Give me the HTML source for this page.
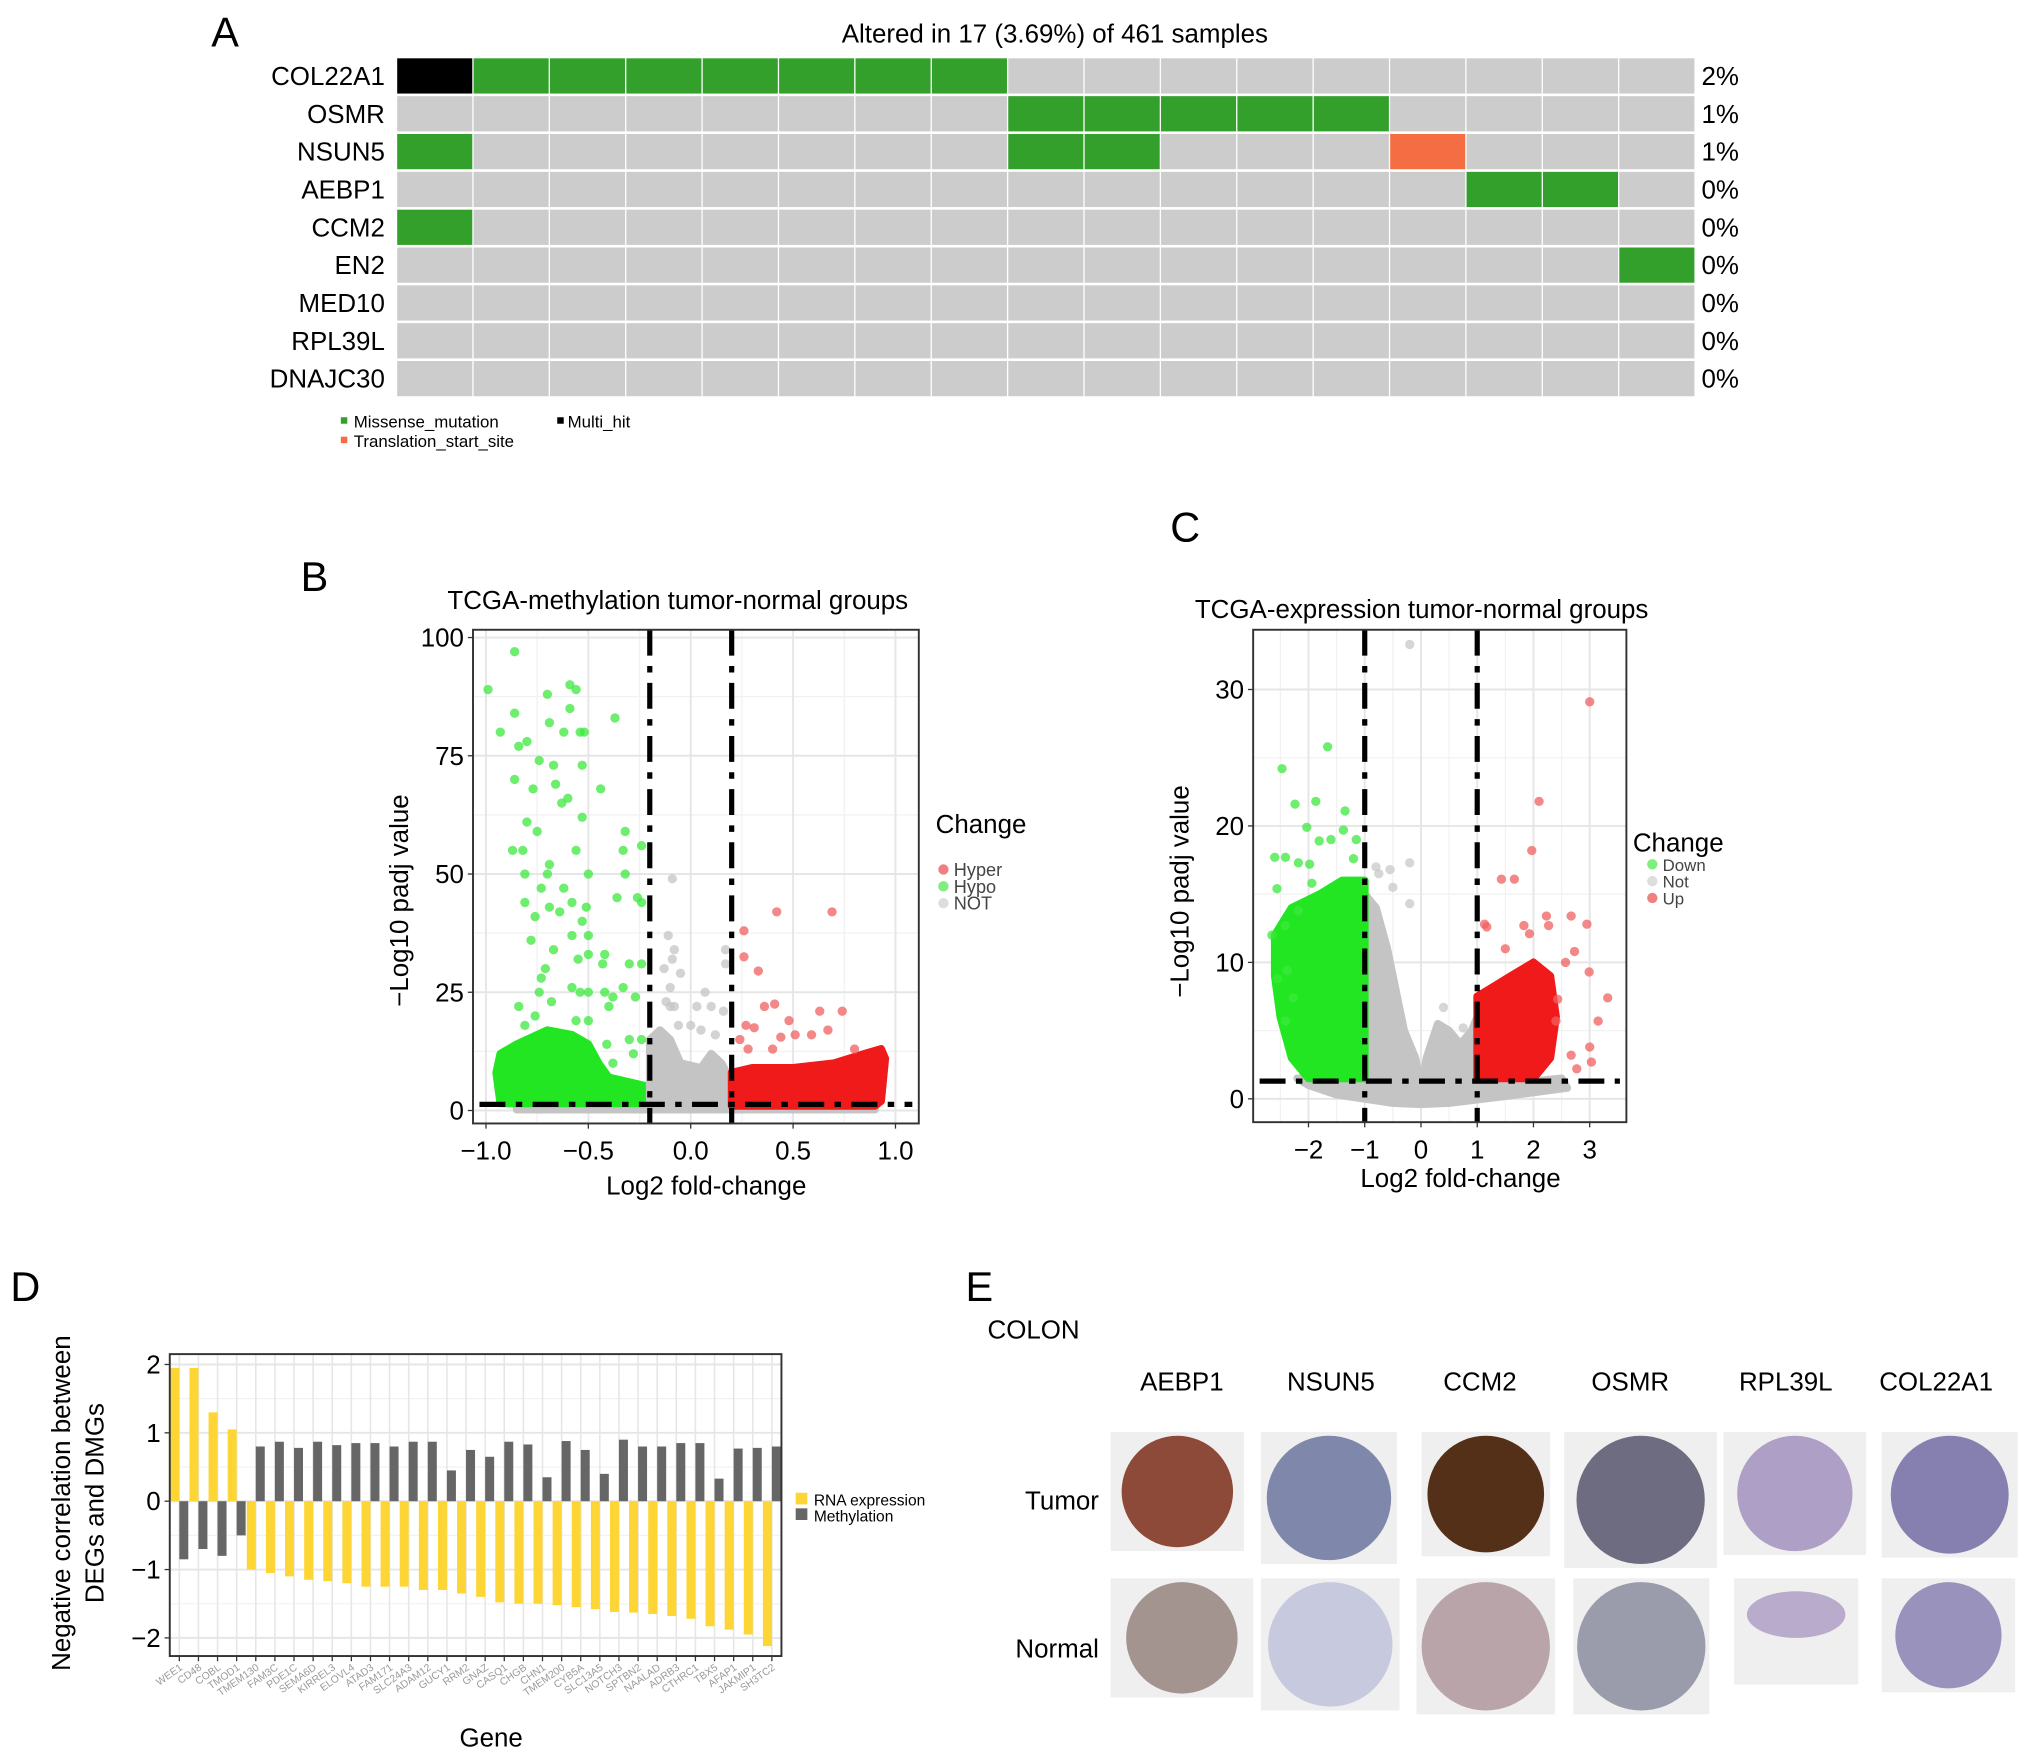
<!DOCTYPE html>
<html><head><meta charset="utf-8"><style>
html,body{margin:0;padding:0;background:#fff;}
svg{display:block;font-family:"Liberation Sans",sans-serif;}
</style></head><body>
<svg id="fig" width="2032" height="1761" viewBox="0 0 1568 1359" preserveAspectRatio="none" xmlns="http://www.w3.org/2000/svg">
<rect width="1568" height="1359" fill="#fff"/>
<g id="panelA">
<text x="163" y="36" font-size="32">A</text>
<text x="814" y="33" font-size="20" text-anchor="middle">Altered in 17 (3.69%) of 461 samples</text>
<g id="oncoGrid"></g>
<g font-size="13">
<rect x="263" y="322" width="5" height="5" fill="#33a02c"/><text x="273" y="330">Missense_mutation</text>
<rect x="430" y="322" width="5" height="5" fill="#000"/><text x="438" y="330">Multi_hit</text>
<rect x="263" y="337" width="5" height="5" fill="#f46d43"/><text x="273" y="345">Translation_start_site</text>
</g>
</g>
<g id="panelB">
<text x="232" y="456" font-size="32">B</text>
<text x="523" y="470" font-size="20" text-anchor="middle">TCGA-methylation tumor-normal groups</text>
<text transform="translate(315,695) rotate(-90)" font-size="20" text-anchor="middle">−Log10 padj value</text>
<text x="545" y="922" font-size="20" text-anchor="middle">Log2 fold-change</text>
<g id="plotB"></g>
<g>
<text x="722" y="643" font-size="20">Change</text>
<circle cx="728" cy="671" r="4" fill="#f08080"/><text x="736" y="676" font-size="14" fill="#444">Hyper</text>
<circle cx="728" cy="684" r="4" fill="#7fee7f"/><text x="736" y="689" font-size="14" fill="#444">Hypo</text>
<circle cx="728" cy="697" r="4" fill="#ddd"/><text x="736" y="702" font-size="14" fill="#444">NOT</text>
</g>
</g>
<g id="panelC">
<text x="903" y="418" font-size="32">C</text>
<text x="1097" y="477" font-size="20" text-anchor="middle">TCGA-expression tumor-normal groups</text>
<text transform="translate(917,688) rotate(-90)" font-size="20" text-anchor="middle">−Log10 padj value</text>
<text x="1127" y="916" font-size="20" text-anchor="middle">Log2 fold-change</text>
<g id="plotC"></g>
<g>
<text x="1260" y="657" font-size="20">Change</text>
<circle cx="1275" cy="667" r="4" fill="#7fee7f"/><text x="1283" y="672" font-size="13" fill="#444">Down</text>
<circle cx="1275" cy="680" r="4" fill="#ddd"/><text x="1283" y="685" font-size="13" fill="#444">Not</text>
<circle cx="1275" cy="693" r="4" fill="#f08080"/><text x="1283" y="698" font-size="13" fill="#444">Up</text>
</g>
</g>
<g id="panelD">
<text x="8" y="1004" font-size="32">D</text>
<text transform="translate(54,1160) rotate(-90)" font-size="20" text-anchor="middle">Negative correlation between</text>
<text transform="translate(80,1160) rotate(-90)" font-size="20" text-anchor="middle">DEGs and DMGs</text>
<text x="379" y="1348" font-size="20" text-anchor="middle">Gene</text>
<g id="plotD"></g>
<g font-size="12">
<rect x="614" y="1152" width="9" height="9" fill="#fdd535"/><text x="628" y="1162">RNA expression</text>
<rect x="614" y="1164" width="9" height="9" fill="#666"/><text x="628" y="1174">Methylation</text>
</g>
</g>
<g id="panelE" font-size="20">
<text x="745" y="1004" font-size="32">E</text>
<text x="762" y="1033">COLON</text>
<text x="848" y="1165" text-anchor="end">Tumor</text>
<text x="848" y="1279" text-anchor="end">Normal</text>
<g id="ihc"></g>
</g>
</svg>
<script>
var NS="http://www.w3.org/2000/svg";
function mk(parent,tag,attrs){var e=document.createElementNS(NS,tag);for(var k in attrs)e.setAttribute(k,attrs[k]);parent.appendChild(e);return e;}

// ---------- Panel A data ----------
var oncoGenes=["COL22A1","OSMR","NSUN5","AEBP1","CCM2","EN2","MED10","RPL39L","DNAJC30"];
var oncoPct=["2%","1%","1%","0%","0%","0%","0%","0%","0%"];
var oncoMissense=[[1,2,3,4,5,6,7],[8,9,10,11,12],[0,8,9],[14,15],[0],[16],[],[],[]];
var oncoMulti=[[0],[],[],[],[],[],[],[],[]];
var oncoTSS=[[],[],[13],[],[],[],[],[],[]];
var nSamples=17;
(function(){
 var g=document.getElementById('oncoGrid');
 var x0=306,x1=1308,y0=44,rh=29.2,cw=(x1-x0)/nSamples;
 for(var r=0;r<oncoGenes.length;r++){
  var t=mk(g,'text',{x:297,y:y0+rh*r+rh/2+7,'font-size':20,'text-anchor':'end'});t.textContent=oncoGenes[r];
  
  
  var p=mk(g,'text',{x:1313,y:y0+rh*r+rh/2+7,'font-size':20});p.textContent=oncoPct[r];
  
  
  for(var c=0;c<nSamples;c++){
   var col='#cccccc';
   if(oncoMissense[r].indexOf(c)>=0)col='#33a02c';
   if(oncoMulti[r].indexOf(c)>=0)col='#000000';
   if(oncoTSS[r].indexOf(c)>=0)col='#f46d43';
   var rc=mk(g,'rect',{x:x0+c*cw+0.5,y:y0+r*rh+1,width:cw-1,height:rh-2,fill:col});
   
   
  }
 }
})();

// ---------- Panel B data ----------
var bXTicks=[-1.0,-0.5,0.0,0.5,1.0];
var bXTickLabels=["−1.0","−0.5","0.0","0.5","1.0"];
var bYTicks=[0,25,50,75,100];
var bGreenCloud=[[-0.93,1.5],[-0.95,8],[-0.93,12],[-0.85,14],[-0.7,17],[-0.58,16],[-0.5,14],[-0.45,10],[-0.4,7],[-0.3,6],[-0.2,5],[-0.2,1.5]];
var bGrayCloud=[[-0.2,1],[-0.2,15],[-0.15,17],[-0.1,15],[-0.05,10],[0.05,9],[0.1,12],[0.15,10],[0.2,6],[0.2,1]];
var bGrayBand=[[-0.85,0.2],[-0.85,2.2],[0.9,2.2],[0.9,0.2]];
var bRedCloud=[[0.2,1],[0.2,8],[0.3,9],[0.5,9],[0.7,10],[0.85,12],[0.93,13],[0.95,11],[0.93,2],[0.9,1]];
var bGreenPts=[[-0.99,89],[-0.86,97],[-0.70,88],[-0.59,90],[-0.56,89],[-0.86,84],[-0.93,80],[-0.59,85],[-0.37,83],[-0.69,82],[-0.62,80],[-0.54,80],[-0.52,80],[-0.8,78],[-0.84,77],[-0.74,74],[-0.67,73],[-0.53,73],[-0.86,70],[-0.77,68],[-0.44,68],[-0.66,69],[-0.63,65],[-0.60,66],[-0.8,61],[-0.75,59],[-0.53,62],[-0.32,59],[-0.24,56],[-0.56,55],[-0.87,55],[-0.82,55],[-0.33,55],[-0.69,52],[-0.81,50],[-0.5,50],[-0.7,50],[-0.73,47],[-0.62,47],[-0.32,50],[-0.36,45],[-0.26,45],[-0.81,44],[-0.69,43],[-0.64,42],[-0.58,44],[-0.51,43],[-0.76,41],[-0.53,40],[-0.24,44],[-0.78,36],[-0.58,37],[-0.5,37],[-0.67,34],[-0.42,33],[-0.5,33],[-0.55,32],[-0.3,31],[-0.24,31],[-0.71,30],[-0.73,28],[-0.43,31],[-0.74,25],[-0.58,26],[-0.54,25],[-0.5,25],[-0.42,25],[-0.38,24],[-0.33,26],[-0.27,24],[-0.68,23],[-0.4,22],[-0.84,22],[-0.76,20],[-0.56,19],[-0.81,18],[-0.5,19],[-0.41,14],[-0.3,15],[-0.24,15],[-0.38,10],[-0.28,12]];
var bGrayPts=[[-0.09,49],[-0.11,37],[-0.08,34],[-0.09,32],[-0.13,30],[-0.05,29],[-0.1,26],[-0.12,23],[-0.1,22],[-0.08,22],[0.07,25],[0.03,22],[0.17,34],[0.17,31],[0.1,22],[0.16,21],[0.0,18],[0.05,17],[-0.06,18],[0.12,16]];
var bRedPts=[[0.26,38],[0.42,42],[0.69,42],[0.26,32.5],[0.33,29.5],[0.36,22],[0.41,22.5],[0.63,21],[0.74,21],[0.27,18],[0.48,19],[0.31,17.5],[0.51,16],[0.59,16],[0.67,17],[0.24,15],[0.4,13],[0.8,13],[0.28,13],[0.44,15.5]];
var bVLines=[-0.2,0.2];
var bHLine=1.3;

// ---------- Panel C data ----------
var cXTicks=[-2,-1,0,1,2,3];
var cXTickLabels=["−2","−1","0","1","2","3"];
var cYTicks=[0,10,20,30];
var cGreenCloud=[[-2.0,1.5],[-2.3,3],[-2.5,6],[-2.6,9],[-2.6,12],[-2.3,14],[-1.8,15],[-1.4,16],[-1.0,16],[-1.0,1.5]];
var cGrayCloud=[[-1,15],[-0.8,14],[-0.6,11],[-0.45,8],[-0.3,5],[-0.1,3],[0,0.8],[0.1,3],[0.3,5.5],[0.5,5],[0.7,4],[0.9,5],[1,6],[1,1.3],[1.8,1.2],[2.5,1.5],[2.6,0.8],[1.5,0.2],[0.5,-0.3],[0,-0.4],[-0.5,-0.3],[-1.5,0.3],[-2.0,1.0],[-2.2,1.5],[-1,1.5]];
var cRedCloud=[[1,1.5],[1,7.5],[1.2,8],[1.6,9],[2,10],[2.3,9],[2.4,6],[2.3,3],[2.0,1.5]];
var cGreenPts=[[-2.47,24.2],[-1.66,25.8],[-2.24,21.6],[-1.87,21.8],[-1.35,21.1],[-2.03,19.9],[-1.38,19.7],[-1.81,18.9],[-1.60,19],[-1.15,19],[-2.6,17.7],[-2.41,17.7],[-2.18,17.3],[-1.98,17.2],[-1.2,17.6],[-2.56,15.4],[-1.94,15.8],[-2.65,12],[-2.41,12.7],[-2.55,8.8],[-2.41,5.7],[-2.27,7.4],[-2.38,9.4],[-2.18,13.8]];
var cGrayPts=[[-0.2,33.3],[-0.2,17.3],[-0.55,16.8],[-0.75,16.5],[-0.5,15.5],[-0.2,14.3],[0.4,6.7],[0.75,5.2],[-0.8,17.0]];
var cRedPts=[[3.0,29.1],[2.1,21.8],[1.97,18.2],[1.43,16.1],[1.66,16.1],[1.13,12.8],[1.17,12.6],[2.23,13.4],[2.67,13.4],[2.95,12.8],[1.83,12.7],[1.93,12.1],[2.27,12.7],[2.73,10.8],[2.99,9.3],[3.32,7.4],[3.15,5.7],[3.0,3.8],[3.03,2.7],[2.77,2.2],[2.67,3.2],[1.5,11],[2.57,10],[2.43,7.3],[2.4,5.7]];
var cVLines=[-1,1];
var cHLine=1.3;

function volcano(gid,prefix,box,sx,sy,xTicks,xLabels,yTicks,yMinor,xMinor,clouds,pts,vlines,hline){
 var g=document.getElementById(gid);
 mk(g,'rect',{x:box[0],y:box[1],width:box[2]-box[0],height:box[3]-box[1],fill:'#fff'});
 yMinor.forEach(function(v){mk(g,'line',{x1:box[0],x2:box[2],y1:sy(v),y2:sy(v),stroke:'#f2f2f2','stroke-width':1});});
 xMinor.forEach(function(v){mk(g,'line',{y1:box[1],y2:box[3],x1:sx(v),x2:sx(v),stroke:'#f2f2f2','stroke-width':1});});
 yTicks.forEach(function(v){
  mk(g,'line',{x1:box[0],x2:box[2],y1:sy(v),y2:sy(v),stroke:'#e6e6e6','stroke-width':1.5});
  mk(g,'line',{x1:box[0]-4,x2:box[0],y1:sy(v),y2:sy(v),stroke:'#333'});
  var t=mk(g,'text',{x:box[0]-7,y:sy(v)+7,'font-size':20,'text-anchor':'end'});t.textContent=v;
  
  
 });
 xTicks.forEach(function(v,i){
  mk(g,'line',{y1:box[1],y2:box[3],x1:sx(v),x2:sx(v),stroke:'#e6e6e6','stroke-width':1.5});
  mk(g,'line',{y1:box[3],y2:box[3]+4,x1:sx(v),x2:sx(v),stroke:'#333'});
  var t=mk(g,'text',{x:sx(v),y:box[3]+28,'font-size':20,'text-anchor':'middle'});t.textContent=xLabels[i];
  
  
 });
 clouds.forEach(function(c){
  var d=c.pts.map(function(p,i){return (i?'L':'M')+sx(p[0]).toFixed(1)+','+sy(p[1]).toFixed(1);}).join('')+'Z';
  var e=mk(g,'path',{d:d,fill:c.col,stroke:c.col,'stroke-width':6,'stroke-linejoin':'round'});
  
  
 });
 pts.forEach(function(s){
  s.pts.forEach(function(p){
   var e=mk(g,'circle',{cx:sx(p[0]),cy:sy(p[1]),r:3.6,fill:s.col,'fill-opacity':0.75});
   
   
  });
 });
 vlines.forEach(function(v){
  var e=mk(g,'line',{x1:sx(v),x2:sx(v),y1:box[1],y2:box[3],stroke:'#000','stroke-width':4,'stroke-dasharray':'20,8,5,8'});
  
  
 });
 var h=mk(g,'line',{x1:box[0]+5,x2:box[2]-5,y1:sy(hline),y2:sy(hline),stroke:'#000','stroke-width':4,'stroke-dasharray':'20,8,5,8'});
 
 
 mk(g,'rect',{x:box[0],y:box[1],width:box[2]-box[0],height:box[3]-box[1],fill:'none',stroke:'#333','stroke-width':1.5});
}
var bBox=[365,486,709,867];
function bx(v){return 533+v*158;}
function by(v){return 857-v*3.65;}
volcano('plotB','volcano-b',bBox,bx,by,bXTicks,bXTickLabels,bYTicks,[12.5,37.5,62.5,87.5],[-0.75,-0.25,0.25,0.75],
 [{pts:bGrayBand,col:'#c4c4c4'},{pts:bGreenCloud,col:'#22e622'},{pts:bGrayCloud,col:'#c4c4c4'},{pts:bRedCloud,col:'#f01a1a'}],
 [{pts:bGreenPts,col:'#3ee83e'},{pts:bGrayPts,col:'#c4c4c4'},{pts:bRedPts,col:'#f06060'}],bVLines,bHLine);

var cBox=[967,486,1255,866];
function cxs(v){return 1096.5+v*43.4;}
function cys(v){return 848-v*10.53;}
volcano('plotC','volcano-c',cBox,cxs,cys,cXTicks,cXTickLabels,cYTicks,[5,15,25],[-2.5,-1.5,-0.5,0.5,1.5,2.5],
 [{pts:cGrayCloud,col:'#c4c4c4'},{pts:cGreenCloud,col:'#22e622'},{pts:cRedCloud,col:'#f01a1a'}],
 [{pts:cGreenPts,col:'#3ee83e'},{pts:cGrayPts,col:'#c8c8c8'},{pts:cRedPts,col:'#f06060'}],cVLines,cHLine);

// ---------- Panel D data ----------
var dGenes=["WEE1","CD48","COBL","TMOD1","TMEM130","FAM3C","PDE1C","SEMA6D","KIRREL3","ELOVL4","ATAD3","FAM171","SLC24A3","ADAM12","GUCY1","RRM2","GNAZ","CASQ1","CHGB","CHN1","TMEM200","CYB5A","SLC13A5","NOTCH3","SPTBN2","NAALAD","ADRB3","CTHRC1","TBX5","AFAP1","JAKMIP1","SH3TC2"];
var dRna=[1.95,1.95,1.3,1.05,-1.0,-1.05,-1.1,-1.15,-1.17,-1.2,-1.25,-1.25,-1.25,-1.3,-1.3,-1.35,-1.4,-1.48,-1.5,-1.5,-1.52,-1.55,-1.58,-1.62,-1.63,-1.65,-1.68,-1.72,-1.83,-1.88,-1.95,-2.12];
var dMeth=[-0.85,-0.7,-0.8,-0.5,0.8,0.87,0.78,0.87,0.82,0.85,0.85,0.8,0.87,0.87,0.45,0.75,0.65,0.87,0.83,0.35,0.88,0.75,0.4,0.9,0.8,0.8,0.85,0.85,0.33,0.77,0.78,0.8];
var dYTicks=[-2,-1,0,1,2];
var dYTickLabels=["−2","−1","0","1","2"];
(function(){
 var g=document.getElementById('plotD');
 var L=131,R=603,T=1045,B=1278;
 var band=(R-L)/dGenes.length;
 function y(v){return 1158.5-v*52.75;}
 mk(g,'rect',{x:L,y:T,width:R-L,height:B-T,fill:'#fff'});
 [-1.5,-0.5,0.5,1.5].forEach(function(v){mk(g,'line',{x1:L,x2:R,y1:y(v),y2:y(v),stroke:'#f2f2f2'});});
 dYTicks.forEach(function(v,i){
  mk(g,'line',{x1:L,x2:R,y1:y(v),y2:y(v),stroke:'#e6e6e6','stroke-width':1.5});
  mk(g,'line',{x1:L-4,x2:L,y1:y(v),y2:y(v),stroke:'#333'});
  var t=mk(g,'text',{x:L-7,y:y(v)+7,'font-size':20,'text-anchor':'end'});t.textContent=dYTickLabels[i];
  
  
 });
 dGenes.forEach(function(gn,i){
  var c=L+band*(i+0.5);
  mk(g,'line',{x1:c,x2:c,y1:T,y2:B,stroke:'#e6e6e6','stroke-width':1.2});
  var w=band*0.47;
  var yb=mk(g,'rect',{x:c-w,y:Math.min(y(0),y(dRna[i])),width:w,height:Math.abs(y(dRna[i])-y(0)),fill:'#fdd535'});
  
  
  var gb=mk(g,'rect',{x:c,y:Math.min(y(0),y(dMeth[i])),width:w,height:Math.abs(y(dMeth[i])-y(0)),fill:'#666666'});
  
  
  mk(g,'line',{x1:c,x2:c,y1:B,y2:B+4,stroke:'#333'});
  var t=mk(g,'text',{x:c+3,y:B+10,'font-size':8,fill:'#999','text-anchor':'end',transform:'rotate(-35 '+(c+3)+' '+(B+10)+')'});t.textContent=gn;
  
  
 });
 mk(g,'rect',{x:L,y:T,width:R-L,height:B-T,fill:'none',stroke:'#333','stroke-width':1.5});
})();

// ---------- Panel E ----------
var eGenes=["AEBP1","NSUN5","CCM2","OSMR","RPL39L","COL22A1"];
var eHeadX=[912,1027,1142,1258,1378,1494];
var eTumorBox=[[857,1105,103,92],[973,1105,105,102],[1097,1105,99,96],[1207,1105,118,105],[1330,1105,110,95],[1452,1105,105,97]];
var eNormalBox=[[857,1218,110,92],[973,1218,107,102],[1093,1218,107,105],[1214,1218,105,105],[1338,1218,96,82],[1452,1218,103,88]];
var eTumorCol=["#8e4a38","#7f88aa","#553018","#6d6c80","#ad9fc5","#8580b0"];
var eNormalCol=["#a39490","#c7c9df","#b9a4aa","#9a9bab","#b8abcb","#9892bd"];
(function(){
 var g=document.getElementById('ihc');
 eGenes.forEach(function(gn,i){
  var t=mk(g,'text',{x:eHeadX[i],y:1073,'text-anchor':'middle','font-size':20});t.textContent=gn;
  
  
  [[eTumorBox[i],eTumorCol[i]],[eNormalBox[i],eNormalCol[i]]].forEach(function(bc,k){
   var b=bc[0];
   mk(g,'rect',{x:b[0],y:b[1],width:b[2],height:b[3],fill:'#efefef'});
   var rx=Math.min(b[2],b[3])/2-3, ry=rx;
   if(k===1&&i===4){ry=18;}
   var el=mk(g,'ellipse',{cx:b[0]+b[2]/2,cy:(k===1&&i===4)?b[1]+28:b[1]+b[3]/2,rx:rx,ry:ry,fill:bc[1]});
   
   
  });
 });
})();
</script>
</body></html>
